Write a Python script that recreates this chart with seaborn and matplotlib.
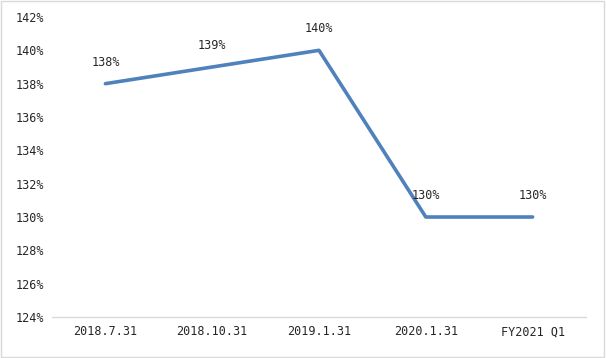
import matplotlib
matplotlib.use("Agg")
import matplotlib.pyplot as plt
import seaborn as sns
import pandas as pd
from matplotlib.patches import Rectangle

categories = ["2018.7.31", "2018.10.31", "2019.1.31", "2020.1.31", "FY2021 Q1"]
values = [138, 139, 140, 130, 130]
yticks = [124, 126, 128, 130, 132, 134, 136, 138, 140, 142]

sns.set_style("white")
plt.rcParams['font.family'] = ['DejaVu Sans Mono', 'Noto Sans CJK SC']

df = pd.DataFrame({"cat": categories, "val": values})
fig = plt.figure(figsize=(6.06, 3.58), dpi=100)
ax = fig.add_axes([0.0858, 0.1145, 0.967 - 0.0858, 0.9525 - 0.1145])
sns.lineplot(data=df, x="cat", y="val", ax=ax, color="#4f81bd", linewidth=2.6, sort=False)

ax.set_xlim(-0.5, len(categories) - 0.5)
ax.set_ylim(124, 142)
ax.set_yticks(yticks)
ax.set_yticklabels([f"{v}%" for v in yticks], fontsize=8.5, color="#262626")
ax.set_xticks(range(len(categories)))
ax.set_xticklabels(categories, fontsize=8.5, color="#262626")
ax.set_xlabel("")
ax.set_ylabel("")
ax.tick_params(axis="both", length=0, pad=6)
for s in ["top", "right", "left"]:
    ax.spines[s].set_visible(False)
ax.spines["bottom"].set_color("#d9d9d9")
ax.spines["bottom"].set_linewidth(1)

for i, v in enumerate(values):
    ax.annotate(f"{v}%", (i, v), xytext=(0, 15.5), textcoords="offset points",
                ha="center", va="center", fontsize=8.5, color="#262626")

fig.patches.append(Rectangle((0.002, 0.003), 0.995, 0.994, transform=fig.transFigure,
                             fill=False, edgecolor="#d9d9d9", linewidth=1))
fig.savefig("out.png", dpi=100)
